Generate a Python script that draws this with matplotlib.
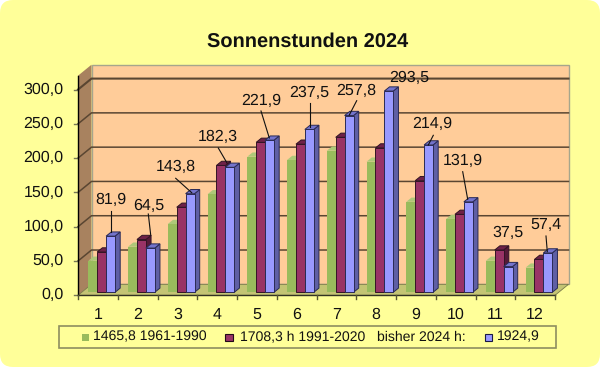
#!/usr/bin/env python3
"""Sonnenstunden 2024 - pseudo 3D column chart"""
import matplotlib
matplotlib.use('Agg')
import matplotlib.pyplot as plt
from matplotlib.patches import FancyBboxPatch, Polygon, Rectangle
from matplotlib.transforms import Affine2D

months = [1, 2, 3, 4, 5, 6, 7, 8, 9, 10, 11, 12]
green_vals = [46, 66.5, 99.6, 143, 197.8, 193, 206.5, 190.5, 132, 107, 46, 36]
purple_vals = [58.8, 77, 124, 185, 218.7, 216, 226, 210.5, 162.8, 113.7, 61.7, 48]
blue_vals = [81.9, 64.5, 143.8, 182.3, 221.9, 237.5, 257.8, 293.5, 214.9, 131.9, 37.5, 57.4]
y_ticks = [0, 50, 100, 150, 200, 250, 300]
y_tick_labels = ['0,0', '50,0', '100,0', '150,0', '200,0', '250,0', '300,0']
blue_labels = ['81,9', '64,5', '143,8', '182,3', '221,9', '237,5', '257,8', '293,5',
               '214,9', '131,9', '37,5', '57,4']

W, H = 600, 367
X0, X_STEP = 78.0, 39.75    # front plane, left edge and width of one month in px
Y0, Y_UNIT = 295.3, 0.6857  # front plane, zero line and px per hour
DX, DY = 13.5, 11.0         # depth of the chart box in px

plt.rcParams['font.family'] = ['Liberation Sans', 'DejaVu Sans']
plt.rcParams['text.hinting'] = 'no_hinting'
plt.rcParams['text.hinting_factor'] = 1

fig = plt.figure(figsize=(W / 100, H / 100), dpi=100, facecolor='white')
ax = fig.add_axes([0, 0, 1, 1])
# data axes: x in months, y in hours, stretched over the whole image
ax.set_xlim(0.5 - X0 / X_STEP, 0.5 + (W - X0) / X_STEP)
ax.set_ylim((Y0 - H) / Y_UNIT, Y0 / Y_UNIT)
ax.axis('off')


def px(x, y):
    return 0.5 + (x - X0) / X_STEP, (Y0 - y) / Y_UNIT


def dpx(dx, dy):
    # px offset to data offset, dy counted upwards
    return dx / X_STEP, dy / Y_UNIT


def poly(points, **kw):
    ax.add_patch(Polygon(points, closed=True, **kw))


# background with rounded corners, drawn in px so the corners stay round
ax.add_patch(FancyBboxPatch((0, 0), W, H, boxstyle='round,pad=0,rounding_size=13',
                            facecolor='#FFFF99', edgecolor='none', transform=Affine2D()))

ax.text(*px(307.5, 42), 'Sonnenstunden 2024', ha='center', va='center', fontsize=14.4,
        fontweight='bold', color='#111111')

# chart box: back wall, side wall, floor
ddx, ddy = dpx(DX, DY)
xl, xr = 0.5, 12.5
box_top = (Y0 - 75.7) / Y_UNIT
poly([(xl + ddx, ddy), (xr + ddx, ddy), (xr + ddx, box_top + ddy), (xl + ddx, box_top + ddy)],
     facecolor='#FFCC99', edgecolor='#A6A68C', lw=1, zorder=1)
poly([(xl, 0), (xl + ddx, ddy), (xl + ddx, box_top + ddy), (xl, box_top)],
     facecolor='#A8825F', edgecolor='none', zorder=1)
poly([(xl, 0), (xr, 0), (xr + ddx, ddy), (xl + ddx, ddy)], facecolor='#C4C474', edgecolor='#77774a',
     lw=0.6, zorder=1)

# gridlines along wall and side
for t, lab in zip(y_ticks, y_tick_labels):
    if t > 0:
        ax.plot([xl, xl + ddx, xr + ddx], [t, t + ddy, t + ddy], color='#5A4632',
                lw=1.5 if t == 300 else 1.1, zorder=2, solid_joinstyle='miter')
    ax.plot([xl - 4 / X_STEP, xl], [t, t], color='#777755', lw=1, zorder=2)
    ax.text(*px(63.5, Y0 - t * Y_UNIT), lab, ha='right', va='center', fontsize=11.4, color='#111111')

# front axes
ax.plot([xl, xl], [0, box_top], color='black', lw=1, zorder=3)
ax.plot([xl, xr], [0, 0], color='#333322', lw=1, zorder=3)
ax.plot([xl, xl], [0, -4 / Y_UNIT], color='#555533', lw=1, zorder=3)
for m in months:
    ax.plot([m + 0.5, m + 0.5], [0, -4 / Y_UNIT], color='#555533', lw=1, zorder=3)
    ax.text(*px(X0 + (m - 0.5) * X_STEP, 314.5), str(m), ha='center', va='center',
            fontsize=11.4, color='#111111')

# bars
BAR_W = 8.9 / X_STEP
BAR_OFF = [10.3 / X_STEP - 0.5, 19.2 / X_STEP - 0.5, 28.1 / X_STEP - 0.5]
BASE = 3.0 / Y_UNIT
sx, sy = dpx(5.2, 4.2)
series = [
    (green_vals, '#99BB5C', '#AEC878', '#88A850', 'none'),
    (purple_vals, '#993366', '#6E2148', '#551A38', '#331425'),
    (blue_vals, '#9999FF', '#7474CC', '#5F5FA5', '#2a2a55'),
]
z = 5
for i, m in enumerate(months):
    for s, (vals, front, top_c, side, edge) in enumerate(series):
        v = vals[i]
        left = m + BAR_OFF[s]
        right = left + BAR_W
        lw = 0 if edge == 'none' else 0.7
        poly([(right, BASE), (right + sx, BASE + sy), (right + sx, BASE + v + sy), (right, BASE + v)],
             facecolor=side, edgecolor=edge, lw=lw, zorder=z)
        poly([(left, BASE + v), (right, BASE + v), (right + sx, BASE + v + sy), (left + sx, BASE + v + sy)],
             facecolor=top_c, edgecolor=edge, lw=lw, zorder=z)
        ax.bar(left, v, width=BAR_W, bottom=BASE, align='edge', color=front, edgecolor=edge,
               linewidth=lw, zorder=z + 0.5)
        z += 1

# value labels with leader lines
label_pos = [(110.7, 200), (148.3, 206), (175.7, 167.3), (218, 137), (261, 100.7), (309.3, 93.3),
             (356.7, 90.7), (409, 78.3), (432.7, 124.3), (463.3, 161), (507.7, 233.3), (546, 225)]
leaders = [((110.7, 210.7), (110.7, 231.7)), ((148.3, 214), (150.7, 235)), ((175.7, 178.3), (191.7, 192.7)),
           ((218.3, 148), (227, 163)), ((261, 111), (269.3, 138)), ((310, 102.7), (310, 126.7)),
           ((356.7, 100.7), (349.3, 115)), None, ((433.3, 135.3), (428.3, 145)),
           ((462.7, 171.7), (467.7, 199.3)), None, ((546, 236), (547.3, 251.7))]
for lab, pos, lead in zip(blue_labels, label_pos, leaders):
    ax.text(*px(*pos), lab, ha='center', va='center', fontsize=11.4, color='#111111', zorder=200)
    if lead:
        a, b = px(*lead[0]), px(*lead[1])
        ax.plot([a[0], b[0]], [a[1], b[1]], color='#111111', lw=0.8, zorder=199)

# legend
lx1, ly1 = px(59, 348)
lx2, ly2 = px(556, 326)
ax.add_patch(Rectangle((lx1, ly1), lx2 - lx1, ly2 - ly1, facecolor='#FFFF99', edgecolor='#8E8E60',
                       lw=1.2, zorder=210))
legend_items = [(82, '#99BB5C', 'none', 92.7, '1465,8 1961-1990'),
                (225.5, '#993366', '#220a18', 240, '1708,3 h 1991-2020'),
                (None, None, None, 377, 'bisher 2024 h:'),
                (485, '#9999FF', '#1a1a44', 496.7, '1924,9')]
for mx, col, ec, tx, txt in legend_items:
    if mx is not None:
        a = px(mx, 341)
        b = px(mx + 7, 334)
        ax.add_patch(Rectangle(a, b[0] - a[0], b[1] - a[1], facecolor=col, edgecolor=ec,
                               lw=0 if ec == 'none' else 0.8, zorder=211))
    ax.text(*px(tx, 337), txt, ha='left', va='center', fontsize=10.05, color='#111111', zorder=211)

fig.savefig('out.png', dpi=100, facecolor='white')
